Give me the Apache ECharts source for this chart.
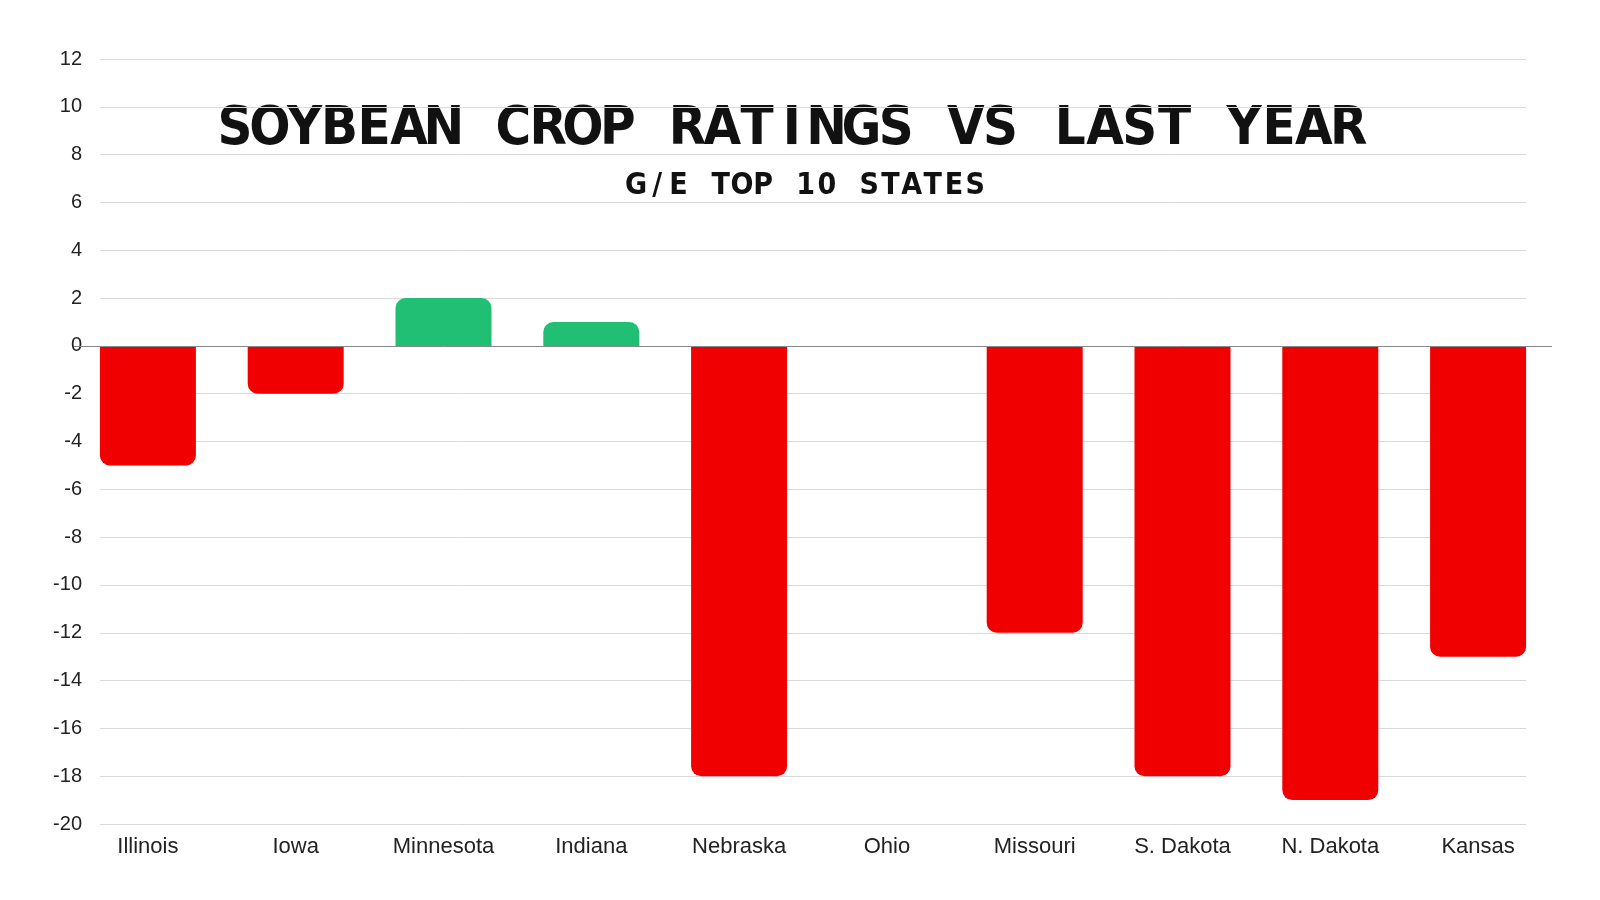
<!DOCTYPE html>
<html><head><meta charset="utf-8">
<script src="https://cdn.jsdelivr.net/npm/echarts@6/dist/echarts.min.js"></script>
<style>html,body{margin:0;background:#fff}#c{width:1600px;height:900px}</style>
</head><body><div id="c"></div>
<script>
const categories=["Illinois","Iowa","Minnesota","Indiana","Nebraska","Ohio","Missouri","S. Dakota","N. Dakota","Kansas"];
const values=[-5,-2,2,1,-18,0,-12,-18,-19,-13];
const titleText="SOYBEAN CROP RATINGS VS LAST YEAR";
const subText="G/E TOP 10 STATES";
function spaced(str,x0,step,y,font){
  return str.split("").map((c,i)=>({type:'text',x:x0+i*step,y:y,
    style:{text:c,font:font,fill:'#111',align:'center',verticalAlign:'middle'}}));
}
const ch=echarts.init(document.getElementById('c'));
ch.setOption({
 animation:false,
 grid:[{left:74,right:48,top:59,bottom:76},{left:100,right:74,top:59,bottom:76}],
 xAxis:[{type:'category',data:categories,gridIndex:0,axisTick:{show:false},axisLine:{show:false},
   axisLabel:{fontSize:22,color:'#222',fontFamily:'Liberation Sans',margin:12}},
  {type:'category',data:categories,gridIndex:1,show:false}],
 yAxis:[{type:'value',gridIndex:0,min:-20,max:12,interval:2,show:false,splitLine:{show:false}},
  {type:'value',gridIndex:1,min:-20,max:12,interval:2,axisLine:{show:false},axisTick:{show:false},
   splitLine:{lineStyle:{color:'#d9d9d9'}},axisLabel:{fontSize:20,color:'#222',fontFamily:'Liberation Sans',margin:18}}],
 series:[{type:'bar',xAxisIndex:0,yAxisIndex:0,barWidth:96,
   data:values.map(v=>({value:v,itemStyle:{color:v>=0?'#21bf73':'#f00000',borderRadius:v>=0?[10,10,0,0]:[0,0,10,10]}})),
   markLine:{silent:true,symbol:'none',label:{show:false},lineStyle:{color:'#888',type:'solid',width:1},data:[{yAxis:0}]}}],
 graphic:[
  ...spaced(titleText,235,34.8,130,'bold 54px "Liberation Sans Narrow", "DejaVu Sans Condensed"'),
  ...spaced(subText,636,21.2,186,'bold 30px "Liberation Sans Narrow", "DejaVu Sans Condensed"')
 ]
});
</script></body></html>
